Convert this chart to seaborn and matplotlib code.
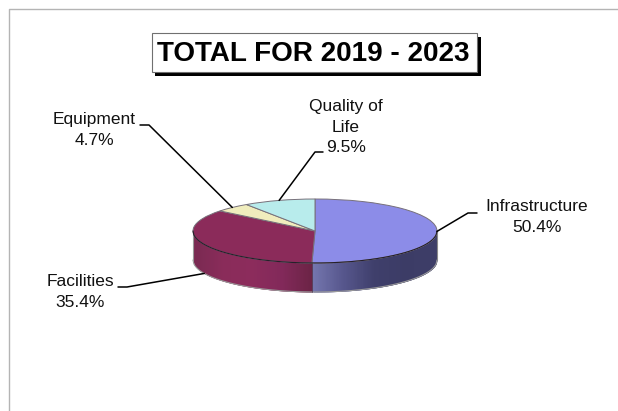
import numpy as np
import matplotlib
matplotlib.use("Agg")
import matplotlib.pyplot as plt
from matplotlib.colors import LinearSegmentedColormap
from matplotlib.patches import Rectangle
import seaborn as sns

categories = ["Infrastructure", "Facilities", "Equipment", "Quality of\nLife"]
shares = [50.4, 35.4, 4.7, 9.5]
title_text = "TOTAL FOR 2019 - 2023"

top_colors = ["#8c8ce8", "#8b2b5a", "#f0edbd", "#b8ecec"]
side_ramps = {
    0: ["#7476ae", "#56568c", "#3f3f6b", "#3c3c66", "#3e3e68"],
    1: ["#7a2a52", "#8a2c5a", "#8c2c5c", "#82295a", "#6c2446"],
}
label_boxes = {
    0: dict(x=537, y=217, ha="center"),
    1: dict(x=80, y=292, ha="center"),
    2: dict(x=94, y=130, ha="center"),
    3: dict(x=346, y=127, ha="center"),
}
leader_knees = {
    0: [(468, 213), (477, 213)],
    1: [(127, 287), (118, 287)],
    2: [(149, 125), (140, 125)],
    3: [(315, 152), (323, 152)],
}

CX, CY, RX, RY, DEPTH = 315, 231, 122, 32, 29

sns.set_theme(style="white")
plt.rcParams["font.family"] = ["Liberation Sans", "DejaVu Sans"]

fig = plt.figure(figsize=(6.18, 4.11), dpi=100, facecolor="white")

# Pie axes: one unit along each axis equals one ellipse radius
ax = fig.add_axes([0, 0, 1, 1])
depth_u = DEPTH / RY

# Cumulative clockwise angles from twelve o'clock
fractions = np.array(shares) / sum(shares)
edges = np.concatenate([[0], np.cumsum(fractions)]) * 2 * np.pi
mids = (edges[:-1] + edges[1:]) / 2

# Side wall of the disc, built from thin overlapping vertical strips
split_x = np.sin(edges[1])
for idx, (lo, hi) in {0: (split_x, 1.0), 1: (-1.0, split_x)}.items():
    cmap = LinearSegmentedColormap.from_list(f"side{idx}", side_ramps[idx])
    xs = np.linspace(lo, hi, 90)
    for i in range(len(xs) - 1):
        end = xs[min(i + 2, len(xs) - 1)]
        seg = np.linspace(xs[i], end, 4)
        rim = -np.sqrt(np.clip(1 - seg**2, 0, 1))
        ax.fill_between(seg, rim, rim - depth_u, color=cmap(i / 88), lw=0, zorder=1)

# Soft grey outline along the lower rim and the two ends of the wall
rim_x = np.linspace(-1, 1, 300)
rim_y = -np.sqrt(1 - rim_x**2)
ax.plot(rim_x, rim_y - depth_u, color="#9a9a9a", lw=0.8, zorder=2)
ax.plot([-1, -1], [0, -depth_u], color="#9a9a9a", lw=0.8, zorder=2)
ax.plot([1, 1], [0, -depth_u], color="#8a8a8a", lw=0.8, zorder=2)
ax.plot([split_x, split_x], [-np.sqrt(1 - split_x**2), -np.sqrt(1 - split_x**2) - depth_u],
        color="#4a3a55", lw=0.5, zorder=2)

ax.pie(shares, colors=top_colors, startangle=90, counterclock=False, radius=1,
       frame=True, wedgeprops=dict(edgecolor="#77707a", linewidth=0.7, zorder=3))
ax.plot(rim_x, rim_y, color="#26202a", lw=0.8, zorder=4)

ax.set_aspect("auto")
ax.set_xlim(-CX / RX, (618 - CX) / RX)
ax.set_ylim((CY - 411) / RY, CY / RY)
ax.axis("off")

# Overlay in pixel units for frame, title and labels
ov = fig.add_axes([0, 0, 1, 1], facecolor="none")
ov.set_xlim(0, 618)
ov.set_ylim(411, 0)
ov.axis("off")

ov.plot([8.5, 8.5, 618], [411, 9.5, 9.5], color="#b4b4b4", lw=1.0, clip_on=False)

ov.add_patch(Rectangle((155, 37), 326, 39, facecolor="black", edgecolor="none", zorder=5))
ov.add_patch(Rectangle((151.5, 33.5), 325, 38.5, facecolor="white", edgecolor="#707070", lw=0.8, zorder=6))
ov.text(313.5, 54, title_text, ha="center", va="center", fontsize=20.1,
        fontweight="bold", color="black", zorder=7)

for i, name in enumerate(categories):
    ux, uy = np.sin(mids[i]), np.cos(mids[i])
    sx, sy = CX + RX * ux, CY - RY * uy
    if uy < -0.05:
        sy += DEPTH
    path = [(sx, sy)] + leader_knees[i]
    ov.plot(*zip(*path), color="black", lw=1.1, zorder=8)
    box = label_boxes[i]
    ov.text(box["x"], box["y"], f"{name}\n{shares[i]:.1f}%", ha=box["ha"], va="center",
            ma="center", fontsize=12.5, color="#111111", linespacing=1.42, zorder=8)

fig.savefig("out.png", dpi=100)
